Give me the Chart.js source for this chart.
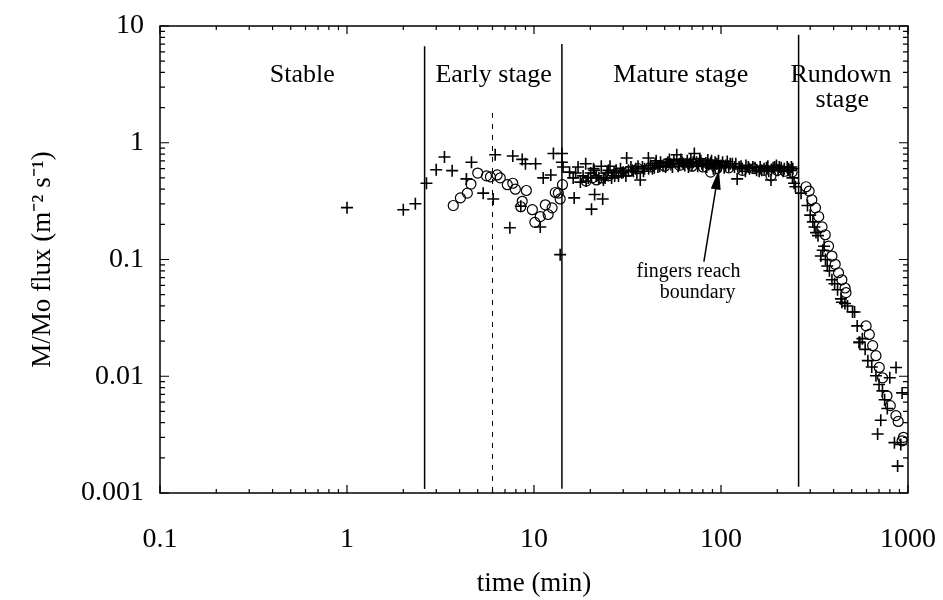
<!DOCTYPE html>
<html>
<head>
<meta charset="utf-8">
<script src="https://cdn.jsdelivr.net/npm/chart.js@4"></script>
<style>
  html, body { margin: 0; padding: 0; background: #fff; }
  #wrap { width: 943px; height: 600px; }
</style>
</head>
<body>
<div id="wrap"><canvas id="c" width="943" height="600"></canvas></div>
<script>
// ---------- DATA ----------
const xTicks = [0.1, 1, 10, 100, 1000];
const xTickLabels = ['0.1', '1', '10', '100', '1000'];
const yTicks = [0.001, 0.01, 0.1, 1, 10];
const yTickLabels = ['0.001', '0.01', '0.1', '1', '10'];

const stageNames = ['Stable', 'Early stage', 'Mature stage', 'Rundown', 'stage'];
const stageBounds = [2.6, 14.1, 260];   // solid vertical lines (min)
const dashedBound = 6.0;                // dashed vertical line (min)

// "+" symbols
const earlyCross = [
  [1.0,0.278],[2.0,0.267],[2.32,0.30],[2.66,0.45],[3.0,0.588],[3.32,0.755],[3.65,0.577],
  [4.35,0.49],[4.63,0.68],[5.35,0.37],[6.05,0.33],[6.2,0.79],[7.43,0.187],[7.7,0.77],
  [8.5,0.286],[8.65,0.72],[9.0,0.66],[10.2,0.66],[10.8,0.19],[11.2,0.50],[12.3,0.53],
  [12.7,0.81],[13.8,0.11],[14.1,0.81],[14.1,0.68],[14.3,0.62]
];
const matureCross = [
  [15.5,0.56],[16.2,0.50],[16.4,0.337],[16.7,0.55],[17.2,0.62],[17.7,0.46],[18.3,0.52],
  [18.9,0.66],[19.5,0.50],[20.1,0.55],[20.3,0.27],[20.8,0.60],[21.1,0.36],[21.5,0.52],
  [22.2,0.50],[22.9,0.63],[23.3,0.33],[24.0,0.50],[24.6,0.55],[25.5,0.63],[26.0,0.50],
  [26.8,0.56],[27.5,0.58],[28.3,0.52],[29.0,0.60],[30.0,0.56],[31.3,0.74],[32.0,0.58],
  [33.0,0.62],[34.0,0.57],[35.0,0.60],[36.0,0.63],[37.0,0.48],[38.0,0.62],[39.0,0.60],
  [40.9,0.74],[42.0,0.64],[43.0,0.60],[44.5,0.66],[46.0,0.62],[47.5,0.68],[49.0,0.64],
  [50.5,0.62],[52.0,0.68],[54.0,0.65],[56.0,0.70],[58.0,0.79],[60.0,0.66],[62.0,0.68],
  [64.0,0.64],[66.0,0.70],[68.0,0.66],[70.0,0.64],[72.0,0.81],[74.0,0.68],[76.0,0.66],
  [78.0,0.70],[80.0,0.64],[83.0,0.67],[86.0,0.65],[89.0,0.70],[92.0,0.64],[95.0,0.66],
  [98.0,0.62],[102,0.68],[106,0.64],[110,0.63],[115,0.66],[122,0.49],[125,0.62],
  [130,0.60],[136,0.64],[142,0.60],[148,0.62],[155,0.58],[162,0.62],[170,0.60],
  [178,0.63],[186,0.59],[194,0.62],[202,0.58],[210,0.61],[218,0.60],[226,0.62],
  [234,0.58],[242,0.60],
  [19.0,0.47],[21.0,0.58],[23.5,0.48],[25.0,0.58],[27.0,0.52],[29.5,0.55],[31.0,0.52],
  [33.5,0.58],[35.5,0.55],[38.5,0.57],[41.0,0.60],[44.0,0.61],[47.0,0.63],[51.0,0.66],
  [55.0,0.62],[59.0,0.63],[63.0,0.66],[67.0,0.62],[71.0,0.68],[75.0,0.63],[79.0,0.66],
  [84.0,0.62],[88.0,0.67],[93.0,0.68],[100,0.64],[104,0.61],[112,0.66],[118,0.62],
  [128,0.63],[140,0.62],[152,0.61],[165,0.58],[175,0.61],[190,0.61],[205,0.62],
  [215,0.57],[230,0.60],[238,0.62],
  [45.0,0.70],[53.0,0.72],[61.0,0.72],[69.0,0.72],[77.0,0.73],[85.0,0.71],[91.0,0.60],
  [97.0,0.70],[108,0.69],[120,0.66],[135,0.57],[160,0.57],[180,0.57],[198,0.64]
];
const rundownCross = [
  [185,0.48],[241,0.50],[246,0.45],[250,0.42],[268,0.37],[290,0.29],[316,0.19],
  [330,0.16],[342,0.107],[356,0.13],[370,0.088],[392,0.067],[438,0.046],[443,0.043],
  [475,0.040],[505,0.0355],[518,0.0355],[535,0.027],[547,0.0195],[553,0.0195],
  [610,0.0136],[674,0.0101],[688,0.0032],[715,0.0042],[750,0.0063],[775,0.0053],
  [799,0.0097],[846,0.0027],[863,0.0119],[880,0.0017],[915,0.0026],[930,0.0072],
  [300,0.24],[310,0.21],[322,0.17],[350,0.12],[362,0.10],[380,0.08],[405,0.062],
  [420,0.055],[460,0.042],[570,0.021],[590,0.017],[640,0.012],[700,0.0085],[730,0.0075]
];

// "o" symbols
const earlyCircle = [
  [3.7,0.29],[4.04,0.337],[4.4,0.37],[4.6,0.443],[5.0,0.55],[5.57,0.52],[5.85,0.51],
  [6.35,0.53],[6.6,0.50],[7.2,0.437],[7.7,0.45],[7.95,0.40],[8.5,0.283],[8.65,0.315],
  [9.1,0.39],[9.8,0.267],[10.1,0.208],[10.8,0.233],[11.5,0.294],[11.9,0.243],
  [12.5,0.277],[13.0,0.375],[13.5,0.37],[13.8,0.33],[14.2,0.437]
];
const matureCircle = [
  [19.0,0.47],[20.5,0.50],[21.6,0.48],[23.0,0.50],[25.0,0.52],[28.0,0.55],[32.0,0.57],
  [36.0,0.60],[42.0,0.62],[50.0,0.63],[60.0,0.64],[70.0,0.63],[80.0,0.62],[88.0,0.56],
  [95.0,0.60],[110,0.61],[130,0.58],[150,0.60],[170,0.58],[185,0.52],[200,0.58],
  [220,0.57],[240,0.56]
];
const rundownCircle = [
  [285,0.42],[296,0.385],[306,0.325],[320,0.277],[333,0.233],[347,0.19],[361,0.163],
  [376,0.13],[392,0.107],[408,0.091],[425,0.077],[443,0.067],[461,0.057],[466,0.052],
  [597,0.027],[621,0.0228],[647,0.0183],[674,0.015],[702,0.0119],[731,0.0097],
  [772,0.0068],[804,0.0056],[862,0.0046],[886,0.0041],[930,0.0028],[946,0.0030]
];

// ---------- CHART ----------
const toPts = arr => arr.map(p => ({x: p[0], y: p[1]}));
const SERIF = '"Liberation Serif", "Times New Roman", serif';

const overlay = {
  id: 'overlay',
  afterDraw(chart) {
    const {ctx, chartArea: a, scales: {x, y}} = chart;
    ctx.save();
    ctx.strokeStyle = '#000';
    ctx.fillStyle = '#000';
    // frame
    ctx.lineWidth = 1.5;
    ctx.strokeRect(a.left, a.top, a.right - a.left, a.bottom - a.top);
    // ticks (inward), all four sides
    ctx.lineWidth = 1.2;
    for (let d = -1; d <= 3; d++) {
      for (let m = 1; m <= 9; m++) {
        const v = m * Math.pow(10, d);
        if (v > 1000) continue;
        const px = x.getPixelForValue(v);
        const len = m === 1 ? 8 : 4;
        ctx.beginPath();
        ctx.moveTo(px, a.bottom); ctx.lineTo(px, a.bottom - len);
        ctx.moveTo(px, a.top); ctx.lineTo(px, a.top + len);
        ctx.stroke();
      }
    }
    for (let d = -3; d <= 1; d++) {
      for (let m = 1; m <= 9; m++) {
        const v = m * Math.pow(10, d);
        if (v > 10) continue;
        const py = y.getPixelForValue(v);
        const len = m === 1 ? 9 : 5;
        ctx.beginPath();
        ctx.moveTo(a.left, py); ctx.lineTo(a.left + len, py);
        ctx.moveTo(a.right, py); ctx.lineTo(a.right - len, py);
        ctx.stroke();
      }
    }
    // stage boundaries
    ctx.lineWidth = 1.5;
    const tops = [6.7, 7.0, 8.4];
    const bots = [0.00108, 0.00109, 0.00113];
    stageBounds.forEach((b, i) => {
      const px = x.getPixelForValue(b);
      ctx.beginPath();
      ctx.moveTo(px, y.getPixelForValue(tops[i]));
      ctx.lineTo(px, y.getPixelForValue(bots[i]));
      ctx.stroke();
    });
    // dashed line
    ctx.lineWidth = 1;
    ctx.setLineDash([5, 6]);
    const dx = x.getPixelForValue(dashedBound);
    ctx.beginPath();
    ctx.moveTo(dx, y.getPixelForValue(1.8));
    ctx.lineTo(dx, y.getPixelForValue(0.00108));
    ctx.stroke();
    ctx.setLineDash([]);
    // stage labels
    ctx.font = '26px ' + SERIF;
    ctx.textAlign = 'center';
    ctx.textBaseline = 'middle';
    const ly = y.getPixelForValue(3.8);
    ctx.fillText(stageNames[0], x.getPixelForValue(0.577), ly);
    ctx.fillText(stageNames[1], x.getPixelForValue(6.08), ly);
    ctx.fillText(stageNames[2], x.getPixelForValue(61), ly);
    ctx.fillText(stageNames[3], x.getPixelForValue(438), ly);
    ctx.fillText(stageNames[4], x.getPixelForValue(445), y.getPixelForValue(2.33));
    // annotation
    ctx.font = '20px ' + SERIF;
    ctx.fillText('fingers reach', x.getPixelForValue(67), y.getPixelForValue(0.079));
    ctx.fillText('boundary', x.getPixelForValue(75), y.getPixelForValue(0.052));
    const tx = x.getPixelForValue(81), ty = y.getPixelForValue(0.096);
    const hx = x.getPixelForValue(97.5), hy = y.getPixelForValue(0.59);
    ctx.lineWidth = 1.5;
    ctx.beginPath(); ctx.moveTo(tx, ty); ctx.lineTo(hx, hy); ctx.stroke();
    const ang = Math.atan2(hy - ty, hx - tx);
    const L = 20, W = 5;
    ctx.beginPath();
    ctx.moveTo(hx, hy);
    ctx.lineTo(hx - L * Math.cos(ang) + W * Math.sin(ang), hy - L * Math.sin(ang) - W * Math.cos(ang));
    ctx.lineTo(hx - L * Math.cos(ang) - W * Math.sin(ang), hy - L * Math.sin(ang) + W * Math.cos(ang));
    ctx.closePath(); ctx.fill();
    ctx.restore();
  }
};

new Chart(document.getElementById('c'), {
  type: 'scatter',
  data: {
    datasets: [
      {
        label: 'cross',
        data: toPts(earlyCross.concat(matureCross, rundownCross)),
        pointStyle: 'cross', pointRadius: 6, borderColor: '#000', borderWidth: 1.6,
        backgroundColor: '#000'
      },
      {
        label: 'circle',
        data: toPts(earlyCircle.concat(matureCircle, rundownCircle)),
        pointStyle: 'circle', pointRadius: 5, borderColor: '#000', borderWidth: 1.2,
        backgroundColor: 'rgba(255,255,255,0)'
      }
    ]
  },
  options: {
    responsive: false,
    animation: false,
    events: [],
    layout: { padding: { left: 0, top: 26, right: 35, bottom: 0 } },
    plugins: { legend: { display: false }, tooltip: { enabled: false } },
    scales: {
      x: {
        type: 'logarithmic', min: 0.1, max: 1000,
        afterBuildTicks: s => { s.ticks = xTicks.map(v => ({value: v})); },
        afterFit: s => { s.height = 107; s.paddingLeft = 0; s.paddingRight = 0; },
        ticks: {
          color: '#000', font: { family: SERIF, size: 28 }, padding: 30,
          maxRotation: 0, autoSkip: false,
          callback: (v) => xTickLabels[xTicks.indexOf(v)] ?? ''
        },
        grid: { display: false, drawTicks: false },
        border: { display: false },
        title: { display: true, text: 'time (min)', color: '#000',
                 font: { family: SERIF, size: 27 }, padding: { top: 0, bottom: 0 } }
      },
      y: {
        type: 'logarithmic', min: 0.001, max: 10,
        afterBuildTicks: s => { s.ticks = yTicks.map(v => ({value: v})); },
        afterFit: s => { s.width = 160; s.paddingTop = 0; s.paddingBottom = 0; },
        ticks: {
          color: '#000', font: { family: SERIF, size: 28 }, padding: 16,
          autoSkip: false,
          callback: (v) => yTickLabels[yTicks.indexOf(v)] ?? ''
        },
        grid: { display: false, drawTicks: false },
        border: { display: false },
        title: { display: true, text: 'M/Mo flux (m\u207B\u00B2 s\u207B\u00B9)', color: '#000',
                 font: { family: SERIF, size: 27 }, padding: { top: 27, bottom: 0 } }
      }
    }
  },
  plugins: [overlay]
});
</script>
</body>
</html>
